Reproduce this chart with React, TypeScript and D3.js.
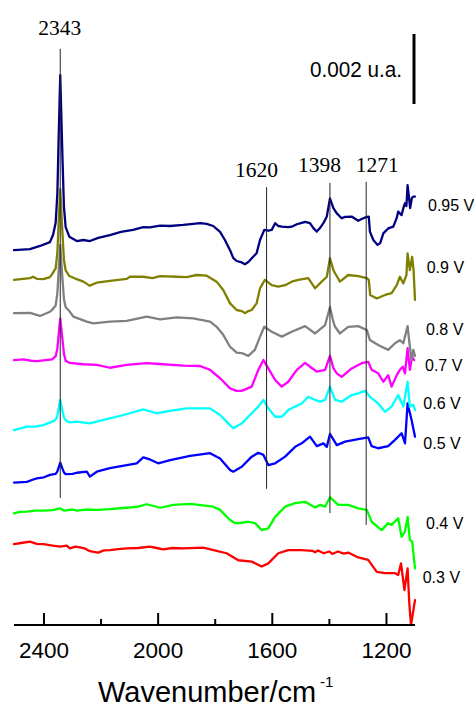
import React from "react";
import * as d3 from "d3";

// Stacked in-situ IR spectra recorded at increasing electrode potential.
// Absorbance values are in mAU (1 mAU = 0.001 u.a.), relative to each trace's offset.

const potentials = ["0.3 V", "0.4 V", "0.5 V", "0.6 V", "0.7 V", "0.8 V", "0.9 V", "0.95 V"];
const offsets = [2.3, 3.2, 4.05, 5.55, 7.55, 8.9, 9.85, 10.7];

type Pt = [number, number];

const spec030: Pt[] = [
  [2505, 0.01], [2475, 0.05], [2449, 0.08], [2425, 0.02], [2402, 0.01], [2370, -0.03],
  [2343, -0.06], [2320, -0.03], [2309, -0.11], [2290, -0.06], [2274, -0.08], [2255, -0.12],
  [2239, -0.19], [2210, -0.23], [2190, -0.17], [2169, -0.16], [2140, -0.13], [2110, -0.11],
  [2070, -0.1], [2029, -0.06], [2005, -0.1], [1982, -0.14], [1950, -0.1], [1912, -0.11],
  [1842, -0.09], [1795, -0.18], [1760, -0.25], [1719, -0.45], [1672, -0.49],
  [1637, -0.63], [1614, -0.54], [1579, -0.25], [1544, -0.16], [1497, -0.16], [1460, -0.18],
  [1450, -0.22], [1440, -0.17], [1420, -0.25], [1400, -0.2], [1390, -0.27], [1370, -0.2],
  [1350, -0.26], [1334, -0.23], [1299, -0.37], [1264, -0.44], [1234, -0.78], [1205, -0.82],
  [1170, -0.82], [1159, -0.87], [1149, -0.54], [1137, -1.3], [1126, -0.68], [1120, -1.68],
  [1114, -2.3], [1100, -1.59],
];

const spec040: Pt[] = [
  [2505, -0.01], [2485, 0.03], [2460, 0.04], [2430, 0.07], [2402, 0.07], [2370, 0.08],
  [2343, 0.13], [2330, 0.07], [2300, 0.1], [2285, 0.07], [2250, 0.1], [2215, 0.09],
  [2169, 0.11], [2110, 0.15], [2070, 0.18], [2040, 0.25], [2015, 0.2], [1993, 0.15],
  [1947, 0.23], [1888, 0.26], [1807, 0.18], [1783, 0.09], [1748, -0.2], [1730, -0.29],
  [1719, -0.29], [1684, -0.25], [1661, -0.29], [1637, -0.49], [1614, -0.44], [1590, -0.11],
  [1555, 0.18], [1520, 0.28], [1485, 0.32], [1450, 0.16], [1433, 0.23], [1415, 0.18],
  [1398, 0.45], [1369, 0.23], [1334, 0.23], [1299, 0.13], [1269, 0.09], [1252, -0.25],
  [1217, -0.49], [1194, -0.29], [1182, -0.34], [1159, -0.15], [1147, -0.68], [1135, -0.53],
  [1126, -0.11], [1118, -0.77], [1110, -0.82], [1100, -1.58],
];

const spec050: Pt[] = [
  [2505, 0.02], [2460, 0.04], [2440, 0.1], [2425, 0.14], [2400, 0.17], [2379, 0.24],
  [2359, 0.27], [2353, 0.34], [2349, 0.44], [2343, 0.59], [2335, 0.41], [2330, 0.31],
  [2324, 0.26], [2300, 0.27], [2285, 0.3], [2250, 0.33], [2239, 0.19], [2215, 0.33],
  [2169, 0.43], [2110, 0.52], [2075, 0.57], [2052, 0.74], [2029, 0.68], [2000, 0.57],
  [1958, 0.66], [1888, 0.78], [1818, 0.86], [1783, 0.71], [1748, 0.38], [1737, 0.33],
  [1707, 0.47], [1672, 0.76], [1649, 0.87], [1631, 0.81], [1614, 0.52], [1590, 0.57],
  [1555, 0.76], [1520, 1.04], [1497, 1.14], [1468, 1.33], [1444, 1.06], [1421, 1.14],
  [1409, 1.04], [1398, 1.41], [1374, 1.09], [1345, 1.19], [1299, 1.26], [1264, 1.31],
  [1252, 1.06], [1229, 1.0], [1194, 1.06], [1170, 1.24], [1147, 1.43], [1135, 1.14],
  [1126, 2.28], [1112, 1.81], [1100, 1.33],
];

const spec060: Pt[] = [
  [2505, 0.02], [2485, 0.06], [2460, 0.12], [2430, 0.12], [2402, 0.16], [2371, 0.26],
  [2359, 0.32], [2353, 0.43], [2349, 0.62], [2343, 0.88], [2335, 0.56], [2330, 0.38],
  [2324, 0.3], [2311, 0.24], [2285, 0.26], [2239, 0.21], [2192, 0.31], [2145, 0.4],
  [2099, 0.5], [2052, 0.61], [2005, 0.5], [1958, 0.57], [1900, 0.64], [1818, 0.64],
  [1783, 0.45], [1748, 0.16], [1737, 0.07], [1719, 0.16], [1707, 0.21], [1672, 0.5],
  [1649, 0.69], [1631, 0.88], [1614, 0.64], [1590, 0.4], [1567, 0.4], [1544, 0.59],
  [1520, 0.69], [1497, 0.78], [1474, 0.97], [1450, 0.88], [1433, 0.83], [1415, 0.88],
  [1398, 1.26], [1380, 0.88], [1357, 0.83], [1322, 1.02], [1299, 1.07], [1275, 1.14],
  [1258, 0.97], [1229, 0.78], [1205, 0.54], [1182, 0.69], [1159, 1.02], [1141, 0.69],
  [1126, 1.4], [1118, 0.69], [1106, 0.74], [1100, 0.59],
];

const spec070: Pt[] = [
  [2505, 0.02], [2472, 0.04], [2445, 0.0], [2425, -0.01], [2402, 0.01], [2371, 0.04],
  [2359, 0.13], [2353, 0.35], [2349, 0.71], [2343, 1.21], [2335, 0.59], [2330, 0.2],
  [2324, 0.0], [2311, -0.06], [2262, -0.1], [2215, -0.12], [2169, -0.2], [2110, -0.12],
  [2040, -0.07], [1982, -0.1], [1912, -0.14], [1853, -0.15], [1818, -0.26], [1783, -0.5],
  [1748, -0.79], [1725, -0.86], [1707, -0.86], [1672, -0.74], [1649, -0.26], [1631, 0.02],
  [1614, -0.22], [1590, -0.55], [1567, -0.74], [1544, -0.6], [1514, -0.26], [1485, -0.06],
  [1468, -0.17], [1444, -0.31], [1415, -0.26], [1398, 0.14], [1386, -0.21], [1374, -0.36],
  [1357, -0.46], [1322, -0.22], [1287, -0.07], [1264, -0.03], [1252, -0.26], [1229, -0.36],
  [1211, -0.6], [1194, -0.41], [1182, -0.74], [1164, -0.41], [1153, -0.26], [1143, -0.17],
  [1135, -0.36], [1126, 0.36], [1118, -0.26], [1110, 0.12], [1103, 0.02],
];

const spec080: Pt[] = [
  [2505, 0.01], [2449, 0.02], [2414, -0.07], [2379, 0.05], [2371, 0.11], [2359, 0.23],
  [2353, 0.58], [2349, 1.15], [2343, 1.96], [2335, 0.96], [2330, 0.41], [2324, 0.18],
  [2311, 0.07], [2297, -0.09], [2250, -0.23], [2227, -0.28], [2169, -0.23], [2110, -0.21],
  [2040, -0.09], [1993, -0.17], [1935, -0.11], [1877, -0.14], [1818, -0.23], [1795, -0.38],
  [1772, -0.61], [1748, -0.95], [1725, -1.12], [1707, -1.13], [1684, -1.21], [1661, -1.04],
  [1643, -0.66], [1628, -0.38], [1602, -0.52], [1567, -0.66], [1532, -0.52], [1485, -0.36],
  [1450, -0.57], [1415, -0.33], [1398, 0.18], [1386, -0.24], [1380, -0.38], [1363, -0.57],
  [1334, -0.38], [1299, -0.36], [1269, -0.47], [1258, -0.76], [1229, -0.9], [1194, -1.04],
  [1170, -0.85], [1153, -0.76], [1141, -0.85], [1126, -0.36], [1118, -0.95], [1112, -1.33],
  [1106, -1.04], [1100, -1.21],
];

const spec090: Pt[] = [
  [2505, 0.01], [2449, 0.06], [2438, 0.1], [2425, 0.04], [2402, 0.03], [2379, 0.09],
  [2371, 0.18], [2359, 0.34], [2353, 0.8], [2349, 1.55], [2343, 2.6], [2335, 1.3],
  [2330, 0.58], [2324, 0.28], [2311, 0.12], [2285, 0.03], [2262, -0.04], [2239, -0.16],
  [2227, -0.11], [2215, -0.07], [2169, -0.02], [2110, 0.04], [2099, 0.1], [2052, 0.1],
  [2020, 0.06], [1993, 0.12], [1935, 0.1], [1900, 0.09], [1865, 0.15], [1830, 0.13],
  [1795, -0.04], [1772, -0.28], [1748, -0.66], [1725, -0.85], [1707, -0.88], [1696, -0.94],
  [1684, -0.88], [1672, -0.85], [1655, -0.66], [1643, -0.23], [1626, 0.01], [1602, -0.14],
  [1579, -0.18], [1555, -0.14], [1532, -0.04], [1509, 0.01], [1474, 0.06], [1450, -0.23],
  [1427, -0.04], [1409, 0.1], [1398, 0.63], [1386, 0.29], [1380, 0.2], [1363, -0.04],
  [1334, 0.15], [1299, 0.12], [1269, 0.06], [1262, 0.01], [1257, -0.42], [1234, -0.52],
  [1205, -0.42], [1182, -0.37], [1164, -0.14], [1153, 0.1], [1141, -0.09], [1130, 0.15],
  [1126, 0.77], [1118, 0.29], [1110, 0.67], [1105, 0.29], [1100, -0.56],
];

const spec095: Pt[] = [
  [2505, 0.01], [2449, 0.04], [2414, 0.13], [2379, 0.24], [2368, 0.45], [2359, 0.79],
  [2353, 1.64], [2349, 3.07], [2343, 5.01], [2335, 2.59], [2330, 1.24], [2324, 0.67],
  [2311, 0.39], [2285, 0.27], [2262, 0.3], [2239, 0.27], [2210, 0.36], [2169, 0.44],
  [2130, 0.53], [2088, 0.59], [2052, 0.67], [2029, 0.66], [1993, 0.71], [1958, 0.7],
  [1912, 0.73], [1877, 0.76], [1853, 0.78], [1830, 0.76], [1807, 0.7], [1783, 0.53],
  [1766, 0.3], [1748, 0.01], [1737, -0.21], [1725, -0.3], [1707, -0.34], [1696, -0.39],
  [1684, -0.33], [1672, -0.22], [1655, -0.08], [1643, 0.3], [1628, 0.59], [1614, 0.57],
  [1602, 0.59], [1590, 0.78], [1579, 0.7], [1567, 0.68], [1544, 0.67], [1532, 0.68],
  [1514, 0.75], [1497, 0.79], [1485, 0.82], [1468, 0.78], [1456, 0.64], [1444, 0.54],
  [1433, 0.64], [1421, 0.78], [1409, 0.97], [1398, 1.49], [1386, 1.21], [1374, 1.06],
  [1357, 0.92], [1345, 0.96], [1322, 0.97], [1299, 0.85], [1287, 0.9], [1269, 0.96],
  [1262, 0.97], [1258, 0.54], [1246, 0.3], [1231, 0.16], [1222, 0.21], [1211, 0.49],
  [1194, 0.63], [1176, 0.68], [1164, 0.93], [1159, 1.11], [1147, 1.01], [1141, 1.21],
  [1135, 1.35], [1130, 1.27], [1126, 1.87], [1120, 1.44], [1117, 1.21], [1111, 1.5],
  [1106, 1.54], [1100, 1.54],
];

const spectra = [spec030, spec040, spec050, spec060, spec070, spec080, spec090, spec095];

// Assigned band positions (cm-1) and the vertical extent of their guide lines (mAU).
const bandLabels = ["2343", "1620", "1398", "1271"];
const bandPositions = [2343, 1620, 1398, 1271];
const bandLineTop = [16.46, 12.51, 12.63, 12.66];
const bandLineBottom = [3.63, 3.89, 3.2, 2.86];

// Scale bar: 0.002 u.a. = 2 mAU
const scaleBarLabel = "0.002 u.a.";
const scaleBarValue = 2;
const scaleBarBase = 14.886;

const majorTicks = [2400, 2000, 1600, 1200];
const minorTicks = [2200, 1800, 1400];
const axisTitle = "Wavenumber/cm";
const axisTitleSup = "-1";

// ---- styling / layout ----
const W = 474;
const H = 709;
const seriesColors = ["#ff0000", "#00ff00", "#0000ff", "#00ffff", "#ff00ff", "#808080", "#808000", "#000080"];
const potentialLabelPos: [number, number][] = [
  [422.7, 582.5], [426, 529], [423.3, 449], [423.3, 409], [425, 371], [426, 335], [426.7, 272.5], [428, 211],
];
const bandLabelDx = [-0.5, -10, -10.5, 11];
const bandLabelY = [35, 176.5, 171.5, 171.5];
const sans = "'Liberation Sans', Arial, Helvetica, sans-serif";
const serif = "'Liberation Serif', 'Times New Roman', Times, serif";

export default function App() {
  const x = d3.scaleLinear().domain([2505, 1100]).range([14, 415]);
  const y = d3.scaleLinear().domain([0, 17.5]).range([625, 12.5]);
  const axisY = y(0);

  return (
    <svg
      width={W}
      height={H}
      viewBox={`0 0 ${W} ${H}`}
      style={{ position: "absolute", left: 0, top: 0, background: "#fff" }}
    >
      <rect x={0} y={0} width={W} height={H} fill="#fff" />

      {spectra.map((s, i) => {
        const line = d3
          .line<Pt>()
          .x((d) => x(d[0]))
          .y((d) => y(d[1] + offsets[i]));
        return (
          <path
            key={potentials[i]}
            d={line(s) ?? ""}
            fill="none"
            stroke={seriesColors[i]}
            strokeWidth={2.3}
            strokeLinejoin="round"
            strokeLinecap="round"
          />
        );
      })}

      {bandPositions.map((b, i) => (
        <g key={bandLabels[i]}>
          <line
            x1={x(b)}
            x2={x(b)}
            y1={y(bandLineTop[i])}
            y2={y(bandLineBottom[i])}
            stroke="#222"
            strokeWidth={1}
          />
          <text
            x={x(b) + bandLabelDx[i]}
            y={bandLabelY[i]}
            textAnchor="middle"
            fontFamily={serif}
            fontSize={21.5}
            fill="#000"
          >
            {bandLabels[i]}
          </text>
        </g>
      ))}

      {potentials.map((p, i) => (
        <text
          key={p}
          x={potentialLabelPos[i][0]}
          y={potentialLabelPos[i][1]}
          fontFamily={sans}
          fontSize={16}
          fill="#000"
        >
          {p}
        </text>
      ))}

      {/* scale bar */}
      <line
        x1={414}
        x2={414}
        y1={y(scaleBarBase)}
        y2={y(scaleBarBase + scaleBarValue)}
        stroke="#000"
        strokeWidth={3}
      />
      <text
        x={310}
        y={76.5}
        fontFamily={sans}
        fontSize={22}
        textLength={92}
        lengthAdjust="spacingAndGlyphs"
        fill="#000"
      >
        {scaleBarLabel}
      </text>

      {/* x axis */}
      <line x1={x.range()[0]} x2={x.range()[1]} y1={axisY} y2={axisY} stroke="#000" strokeWidth={2} />
      {majorTicks.map((t) => (
        <g key={t}>
          <line x1={x(t)} x2={x(t)} y1={axisY} y2={axisY - 12} stroke="#000" strokeWidth={2} />
          <text
            x={x(t)}
            y={657.5}
            textAnchor="middle"
            fontFamily={sans}
            fontSize={22.5}
            fill="#000"
          >
            {t}
          </text>
        </g>
      ))}
      {minorTicks.map((t) => (
        <line key={t} x1={x(t)} x2={x(t)} y1={axisY} y2={axisY - 6} stroke="#000" strokeWidth={2} />
      ))}
      <text x={98} y={702} fontFamily={sans} fontSize={29} fill="#000">
        {axisTitle}
      </text>
      <text x={320} y={687} fontFamily={sans} fontSize={15} fill="#000">
        {axisTitleSup}
      </text>
    </svg>
  );
}
